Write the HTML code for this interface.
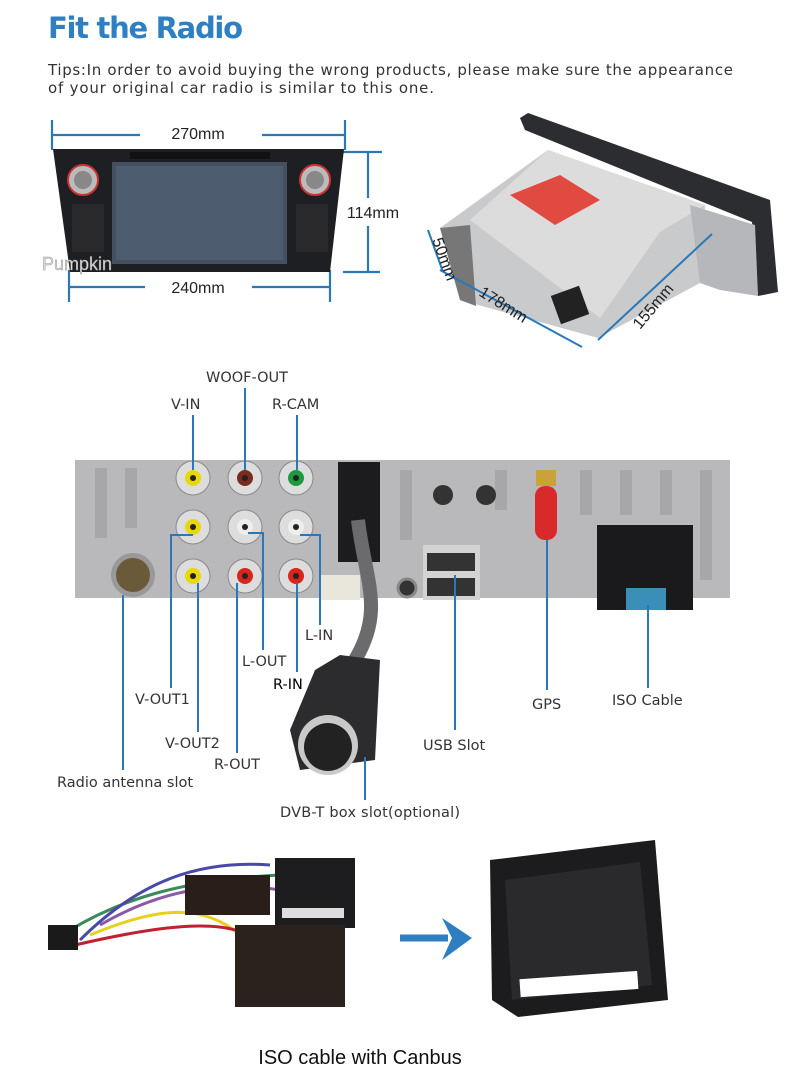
<!DOCTYPE html>
<html><head><meta charset="utf-8"><style>
html,body{margin:0;padding:0;background:#fff}
svg{display:block}
.l{font-family:"DejaVu Sans","Liberation Sans",sans-serif;font-size:14.5px;fill:#333}
.d{font-family:"Liberation Sans",sans-serif;font-size:16px;fill:#222}
</style></head><body>
<svg width="800" height="1084" viewBox="0 0 800 1084" xmlns="http://www.w3.org/2000/svg">
<text x="48" y="38" font-family="'DejaVu Sans','Liberation Sans',sans-serif" font-weight="bold" font-size="29" fill="#2e80c2" textLength="195">Fit the Radio</text>
<text x="48" y="75" class="l" fill="#333" textLength="685" style="font-size:15px">Tips:In order to avoid buying the wrong products, please make sure the appearance</text>
<text x="48" y="93" class="l" textLength="386" style="font-size:15px">of your original car radio is similar to this one.</text>

<!-- front radio -->
<g stroke="#2a78b8" stroke-width="2.2" fill="none">
<line x1="52" y1="120" x2="52" y2="150"/><line x1="345" y1="120" x2="345" y2="150"/>
<line x1="52" y1="135" x2="140" y2="135"/><line x1="262" y1="135" x2="345" y2="135"/>
<line x1="340" y1="152" x2="382" y2="152"/><line x1="343" y1="272" x2="380" y2="272"/>
<line x1="368" y1="152" x2="368" y2="198"/><line x1="368" y1="226" x2="368" y2="272"/>
<line x1="69" y1="270" x2="69" y2="302"/><line x1="330" y1="270" x2="330" y2="302"/>
<line x1="69" y1="287" x2="145" y2="287"/><line x1="252" y1="287" x2="330" y2="287"/>
</g>
<text x="198" y="139" class="d" text-anchor="middle">270mm</text>
<text x="198" y="293" class="d" text-anchor="middle">240mm</text>
<text x="373" y="218" class="d" text-anchor="middle">114mm</text>
<path d="M53 149 L344 149 L330 272 L70 272 Z" fill="#1e1f22"/>
<rect x="112" y="162" width="175" height="102" fill="#44505f"/>
<rect x="116" y="166" width="167" height="94" fill="#4d5c6e"/>
<rect x="130" y="152" width="140" height="7" fill="#111"/>
<circle cx="83" cy="180" r="15" fill="#bbb" stroke="#c33" stroke-width="2"/>
<circle cx="83" cy="180" r="9" fill="#888"/>
<circle cx="315" cy="180" r="15" fill="#bbb" stroke="#c33" stroke-width="2"/>
<circle cx="315" cy="180" r="9" fill="#888"/>
<rect x="72" y="204" width="32" height="48" fill="#2a2a2d"/>
<rect x="296" y="204" width="32" height="48" fill="#2a2a2d"/>
<text x="42" y="270" font-family="'Liberation Sans',sans-serif" font-size="18" fill="#ddd" stroke="#999" stroke-width="0.5">Pumpkin</text>

<!-- side unit -->
<path d="M440 228 L548 150 L705 205 L700 283 L598 338 L460 300 Z" fill="#c9cacc"/>
<path d="M470 220 L548 150 L705 205 L660 232 L600 318 Z" fill="#dcdcdc"/>
<path d="M520 118 L528 113 L770 200 L778 292 L758 296 L752 222 L525 130 Z" fill="#2c2d31"/>
<path d="M690 205 L755 225 L758 296 L720 290 L700 283 Z" fill="#b5b7ba"/>
<path d="M510 195 L560 175 L600 200 L555 225 Z" fill="#e04a40"/>
<path d="M440 228 L470 225 L476 306 L460 300 Z" fill="#777"/>
<rect x="555" y="290" width="30" height="30" fill="#222" transform="rotate(-20 570 305)"/>
<g stroke="#2a78b8" stroke-width="2" fill="none">
<line x1="428" y1="230" x2="443" y2="272"/>
<line x1="440" y1="270" x2="582" y2="347"/>
<line x1="598" y1="340" x2="712" y2="234"/>
</g>
<text x="0" y="0" class="d" transform="translate(432 240) rotate(70)" font-size="14">50mm</text>
<text x="0" y="0" class="d" transform="translate(478 295) rotate(32)">178mm</text>
<text x="0" y="0" class="d" transform="translate(640 330) rotate(-50)">155mm</text>

<!-- back panel -->
<path d="M75 460 L730 460 L730 598 L75 598 Z" fill="#b9b9bb"/>
<g fill="#a7a7a9">
<rect x="95" y="468" width="12" height="70"/><rect x="125" y="468" width="12" height="60"/>
<rect x="400" y="470" width="12" height="70"/><rect x="495" y="470" width="12" height="40"/>
<rect x="580" y="470" width="12" height="45"/><rect x="620" y="470" width="12" height="45"/>
<rect x="660" y="470" width="12" height="45"/><rect x="700" y="470" width="12" height="110"/>
</g>
<g>
<circle cx="193" cy="478" r="17" fill="#ddd" stroke="#888"/><circle cx="193" cy="478" r="8" fill="#e8d80a"/>
<circle cx="245" cy="478" r="17" fill="#ddd" stroke="#888"/><circle cx="245" cy="478" r="8" fill="#7a2a1e"/>
<circle cx="296" cy="478" r="17" fill="#ddd" stroke="#888"/><circle cx="296" cy="478" r="8" fill="#1e9a3c"/>
<circle cx="193" cy="527" r="17" fill="#ddd" stroke="#888"/><circle cx="193" cy="527" r="8" fill="#e8d80a"/>
<circle cx="245" cy="527" r="17" fill="#ddd" stroke="#888"/><circle cx="245" cy="527" r="8" fill="#eee"/>
<circle cx="296" cy="527" r="17" fill="#ddd" stroke="#888"/><circle cx="296" cy="527" r="8" fill="#eee"/>
<circle cx="193" cy="576" r="17" fill="#ddd" stroke="#888"/><circle cx="193" cy="576" r="8" fill="#e8d80a"/>
<circle cx="245" cy="576" r="17" fill="#ddd" stroke="#888"/><circle cx="245" cy="576" r="8" fill="#d9261c"/>
<circle cx="296" cy="576" r="17" fill="#ddd" stroke="#888"/><circle cx="296" cy="576" r="8" fill="#d9261c"/>
</g>
<g fill="#222"><circle cx="193" cy="478" r="3"/><circle cx="245" cy="478" r="3"/><circle cx="296" cy="478" r="3"/><circle cx="193" cy="527" r="3"/><circle cx="245" cy="527" r="3"/><circle cx="296" cy="527" r="3"/><circle cx="193" cy="576" r="3"/><circle cx="245" cy="576" r="3"/><circle cx="296" cy="576" r="3"/></g>
<circle cx="133" cy="575" r="22" fill="#999"/><circle cx="133" cy="575" r="17" fill="#6b5a3a"/>
<rect x="338" y="462" width="42" height="100" fill="#1c1c1e"/>
<rect x="320" y="575" width="40" height="25" fill="#e9e6dc"/>
<circle cx="407" cy="588" r="9" fill="#333" stroke="#888" stroke-width="3"/>
<rect x="423" y="545" width="57" height="55" fill="#d3d3d3"/>
<rect x="427" y="553" width="48" height="18" fill="#333"/><rect x="427" y="578" width="48" height="18" fill="#333"/>
<circle cx="443" cy="495" r="10" fill="#333"/><circle cx="486" cy="495" r="10" fill="#333"/>
<rect x="536" y="470" width="20" height="16" fill="#c9a23a"/>
<rect x="535" y="486" width="22" height="54" rx="10" fill="#d82a2a"/>
<rect x="597" y="525" width="96" height="85" fill="#1a1a1c"/>
<rect x="626" y="588" width="40" height="22" fill="#3a8fb8"/>
<!-- cable + DVB -->
<path d="M358 520 C365 580 385 610 355 660" stroke="#6b6b6d" stroke-width="14" fill="none"/>
<path d="M340 655 L380 660 L375 760 L300 770 L290 730 L315 670 Z" fill="#2c2c2e"/>
<circle cx="328" cy="745" r="30" fill="#c9c9c9"/><circle cx="328" cy="747" r="24" fill="#222"/>
<!-- leaders -->
<g stroke="#2a78b8" stroke-width="2" fill="none">
<line x1="245" y1="388" x2="245" y2="470"/>
<line x1="193" y1="415" x2="193" y2="470"/>
<line x1="297" y1="415" x2="297" y2="470"/>
<polyline points="193,535 171,535 171,688"/>
<line x1="198" y1="583" x2="198" y2="732"/>
<line x1="237" y1="583" x2="237" y2="753"/>
<polyline points="248,533 263,533 263,650"/>
<line x1="297" y1="583" x2="297" y2="672"/>
<polyline points="300,535 320,535 320,625"/>
<line x1="123" y1="595" x2="123" y2="770"/>
<line x1="365" y1="757" x2="365" y2="800"/>
<line x1="455" y1="575" x2="455" y2="730"/>
<line x1="547" y1="540" x2="547" y2="690"/>
<line x1="648" y1="605" x2="648" y2="688"/>
</g>
<text x="206" y="382" class="l">WOOF-OUT</text>
<text x="171" y="409" class="l">V-IN</text>
<text x="272" y="409" class="l">R-CAM</text>
<text x="305" y="640" class="l">L-IN</text>
<text x="242" y="666" class="l">L-OUT</text>
<text x="273" y="689" class="l" style="fill:#000">R-IN</text>
<text x="135" y="704" class="l">V-OUT1</text>
<text x="165" y="748" class="l">V-OUT2</text>
<text x="214" y="769" class="l">R-OUT</text>
<text x="57" y="787" class="l">Radio antenna slot</text>
<text x="280" y="817" class="l" textLength="180">DVB-T box slot(optional)</text>
<text x="423" y="750" class="l">USB Slot</text>
<text x="532" y="709" class="l">GPS</text>
<text x="612" y="705" class="l">ISO Cable</text>

<!-- bottom -->
<g fill="none" stroke-width="3">
<path d="M70 930 C120 900 180 880 280 875" stroke="#3a8a5a"/>
<path d="M80 940 C140 880 200 860 270 865" stroke="#4a48a8"/>
<path d="M90 935 C150 910 200 900 240 935" stroke="#e8d020"/>
<path d="M75 945 C140 930 200 920 235 930" stroke="#c02030"/>
<path d="M100 925 C160 890 220 880 280 890" stroke="#8a5aa8"/>
</g>
<rect x="48" y="925" width="30" height="25" fill="#1a1a1a"/>
<rect x="185" y="875" width="85" height="40" fill="#2a1e1a"/>
<rect x="275" y="858" width="80" height="70" fill="#1d1d1f"/>
<rect x="282" y="908" width="62" height="10" fill="#ddd"/>
<rect x="235" y="925" width="110" height="82" fill="#2b211d"/>
<line x1="400" y1="938" x2="448" y2="938" stroke="#2e7fc1" stroke-width="7"/>
<path d="M442 918 L472 938 L442 960 L452 938 Z" fill="#2e7fc1"/>
<path d="M490 860 L655 840 L668 1000 L518 1017 L492 1000 Z" fill="#1c1c1e"/>
<path d="M505 880 L640 862 L652 985 L512 1000 Z" fill="#2a2a2d"/>
<rect x="520" y="975" width="118" height="18" fill="#fff" transform="rotate(-4 580 985)"/>
<text x="360" y="1064" text-anchor="middle" font-family="'Liberation Sans',sans-serif" font-size="20" fill="#111">ISO cable with Canbus</text>
</svg>
</body></html>
